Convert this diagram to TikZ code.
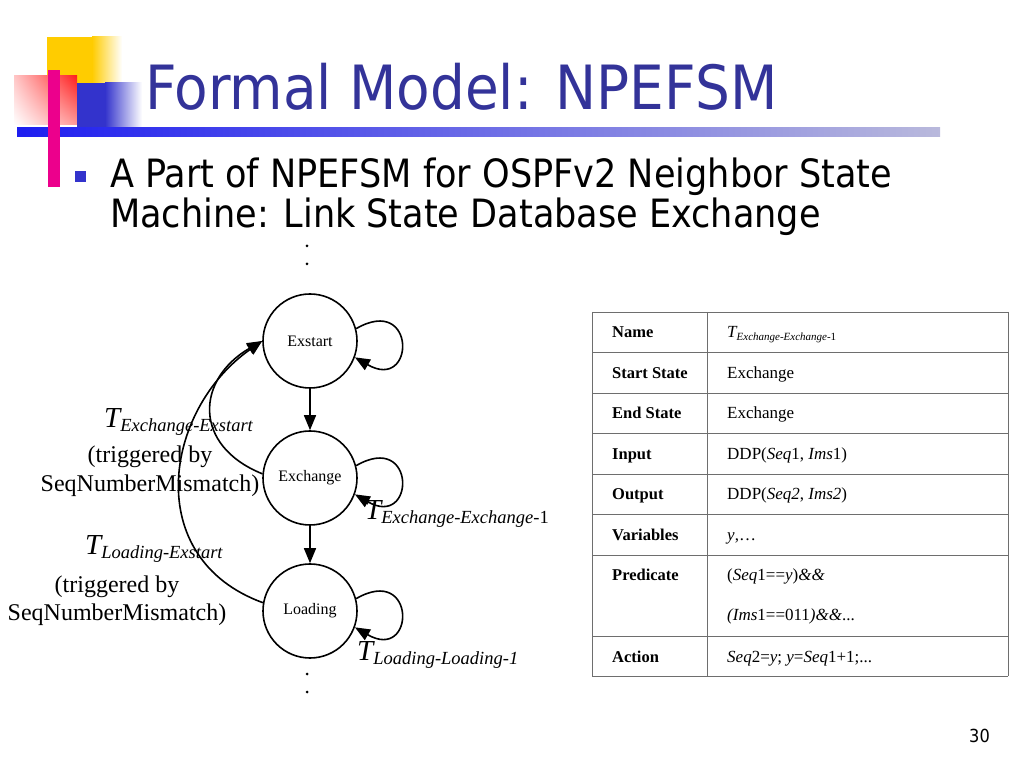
\documentclass[tikz,border=0pt]{standalone}
\usepackage{amsmath}
\usepackage{amssymb}
\usepackage{fontspec}
\setmainfont{Liberation Serif}
\newfontfamily\slidefont{DejaVu Sans Condensed}
\usetikzlibrary{arrows.meta,shadings}
\definecolor{titleblue}{RGB}{51,51,153}
\definecolor{barblue}{RGB}{30,30,240}
\definecolor{fadeblue}{RGB}{185,185,220}
\definecolor{boxblue}{RGB}{51,51,204}
\definecolor{boxyellow}{RGB}{255,204,0}
\definecolor{boxred}{RGB}{255,30,30}
\definecolor{gridgray}{RGB}{110,110,110}
% big italic T with a lowered italic index
\newcommand{\tlab}[1]{{\fontsize{29}{29}\selectfont\itshape T}\raisebox{-4pt}{\fontsize{18.5}{18.5}\selectfont\itshape #1}}
\newcommand{\tcell}[1]{{\fontsize{17}{17}\selectfont\itshape T}\raisebox{-3pt}{\fontsize{11}{11}\selectfont\itshape #1}}
\begin{document}
\begin{tikzpicture}[x=1pt,y=1pt]
            \tikzstyle{every node}+=[inner sep=0pt]
            \tikzstyle{state}=[draw=black, line width=1.6pt, circle, minimum size=94pt, font=\fontsize{16}{16}\selectfont]
            \tikzstyle{trans}=[draw=black, line width=1.6pt, -{Triangle[length=15pt,width=12pt]}]
            \tikzstyle{note}=[anchor=base, font=\fontsize{24}{24}\selectfont]
            \tikzstyle{head}=[anchor=base west, font=\fontsize{16.5}{16.5}\selectfont\bfseries]
            \tikzstyle{cell}=[anchor=base west, font=\fontsize{17}{17}\selectfont]
            \useasboundingbox (0,0) rectangle (1024,768);
            % slide decoration
            \fill [boxyellow] (47,731) rectangle (92,685);
            \shade [left color=boxyellow, right color=white] (92,731) rectangle (122,685);
            \shade [upper left=boxred!25, upper right=boxred, lower left=white, lower right=boxred!45] (14,692) rectangle (77,643);
            \fill [boxblue] (77,685) rectangle (105,638);
            \shade [left color=boxblue, right color=white] (105,685) rectangle (142,638);
            \shade [left color=barblue, right color=fadeblue] (17,640) rectangle (940,631);
            \fill [magenta] (48,698) rectangle (60,581);
            \node (title) [anchor=base west, text=titleblue, font=\slidefont\fontsize{61}{61}\selectfont] at (145,658) {Formal Model: NPEFSM};
            \fill [boxblue] (75,597) rectangle (86,586);
            \node (line1) [anchor=base west, font=\slidefont\fontsize{39}{39}\selectfont] at (110,580) {A Part of NPEFSM for OSPFv2 Neighbor State};
            \node (line2) [anchor=base west, font=\slidefont\fontsize{39}{39}\selectfont] at (110,540) {Machine: Link State Database Exchange};
            \node (num) [anchor=base east, font=\slidefont\fontsize{18}{18}\selectfont] at (990,26) {30};
            % states
            \fill [black] (307,522) circle (1.5);
            \fill [black] (307,504) circle (1.5);
            \node (exstart) [state] at (310,427) {Exstart};
            \node (exchange) [state] at (310,290) {Exchange};
            \node (loading) [state] at (310,157) {Loading};
            \fill [black] (307,94) circle (1.5);
            \fill [black] (307,76) circle (1.5);
            \draw [trans] (exstart) -- (exchange);
            \draw [trans] (exchange) -- (loading);
            \draw [trans] (exstart.15) .. controls +(30:70) and +(-30:70) .. (exstart.-20);
            \draw [trans] (exchange.15) .. controls +(30:70) and +(-30:70) .. (exchange.-20);
            \draw [trans] (loading.15) .. controls +(30:70) and +(-30:70) .. (loading.-20);
            \draw [trans] (exchange.175) .. controls +(158:76) and +(210:76) .. (exstart.west);
            \draw [trans] (loading.170) .. controls +(160:130) and +(215:120) .. (exstart.west);
            % transition labels
            \node (lxe) [anchor=base west] at (104,340) {\tlab{Exchange-Exstart}};
            \node (lxe2) [note] at (150,305) {(triggered by};
            \node (lxe3) [note] at (150,276) {SeqNumberMismatch)};
            \node (lle) [anchor=base west] at (85,213) {\tlab{Loading-Exstart}};
            \node (lle2) [note] at (117,175) {(triggered by};
            \node (lle3) [note] at (117,147) {SeqNumberMismatch)};
            \node (lxx) [anchor=base west] at (365,248) {\tlab{Exchange-Exchange-\upshape 1}};
            \node (lll) [anchor=base west] at (357,108) {\tlab{Loading-Loading-1}};
            % transition table
            \foreach \y in {456,416,375,335,294,254,213,132,92}
                \draw [gridgray, line width=0.8pt] (592,\y) -- (1008,\y);
            \draw [gridgray, line width=0.8pt] (592,456) -- (592,92);
            \draw [gridgray, line width=0.8pt] (707,456) -- (707,92);
            \draw [gridgray, line width=0.8pt] (1008,456) -- (1008,92);
            \node (hname) [head] at (612,430) {Name};
            \node (hstart) [head] at (612,389) {Start State};
            \node (hend) [head] at (612,349) {End State};
            \node (hin) [head] at (612,308) {Input};
            \node (hout) [head] at (612,268) {Output};
            \node (hvar) [head] at (612,227) {Variables};
            \node (hpred) [head] at (612,187) {Predicate};
            \node (hact) [head] at (612,106) {Action};
            \node (vname) [cell] at (727,430) {\tcell{Exchange-Exchange-\upshape 1}};
            \node (vstart) [cell] at (727,389) {Exchange};
            \node (vend) [cell] at (727,349) {Exchange};
            \node (vin) [cell] at (727,308) {DDP(\textit{Seq}1, \textit{Ims}1)};
            \node (vout) [cell] at (727,268) {DDP(\textit{Seq2}, \textit{Ims2})};
            \node (vvar) [cell] at (727,227) {\textit{y},\dots};
            \node (vpred) [cell] at (727,187) {(\textit{Seq}1==\textit{y})\textit{\&\&}};
            \node (vpred2) [cell] at (727,147) {\textit{(Ims}1==011\textit{)\&\&}...};
            \node (vact) [cell] at (727,106) {\textit{Seq}2=\textit{y}; \textit{y}=\textit{Seq}1+1;...};
        \end{tikzpicture}
\end{document}
